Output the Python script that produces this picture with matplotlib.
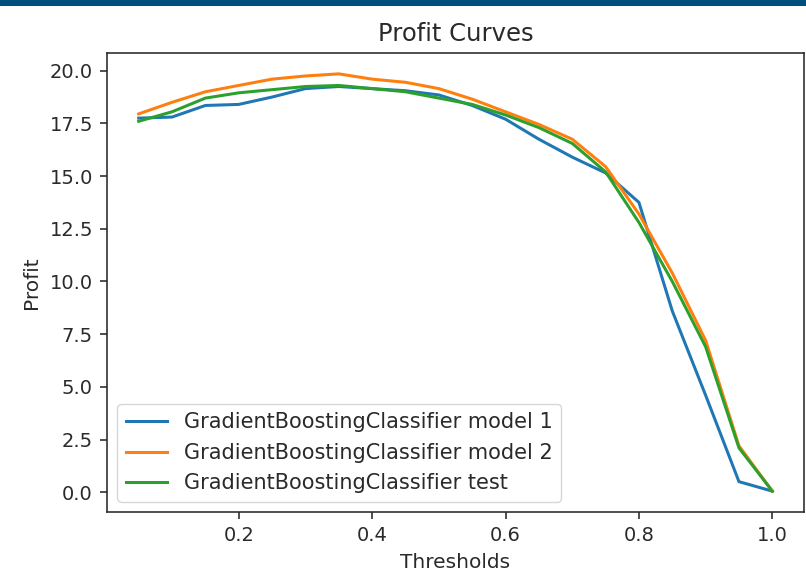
import matplotlib
matplotlib.use("Agg")
import matplotlib.pyplot as plt
from matplotlib.patches import Rectangle

thresholds = [0.05, 0.10, 0.15, 0.20, 0.25, 0.30, 0.35, 0.40, 0.45, 0.50,
              0.55, 0.60, 0.65, 0.70, 0.75, 0.80, 0.85, 0.90, 0.95, 1.00]
model1 = [17.75, 17.8, 18.35, 18.4, 18.75, 19.15, 19.25, 19.15, 19.05, 18.85,
          18.35, 17.7, 16.75, 15.9, 15.15, 13.75, 8.6, 4.6, 0.5, 0.05]
model2 = [17.95, 18.5, 19.0, 19.3, 19.6, 19.75, 19.85, 19.6, 19.45, 19.15,
          18.65, 18.05, 17.45, 16.75, 15.45, 13.2, 10.4, 7.2, 2.2, 0.05]
test = [17.6, 18.05, 18.7, 18.95, 19.1, 19.25, 19.3, 19.15, 19.0, 18.7,
        18.4, 17.9, 17.3, 16.55, 15.2, 12.8, 10.0, 6.9, 2.1, 0.05]
labels = ["GradientBoostingClassifier model 1",
          "GradientBoostingClassifier model 2",
          "GradientBoostingClassifier test"]
colors = ["#1f77b4", "#ff7f0e", "#2ca02c"]

s = 1.45
plt.rcParams.update({
    "font.family": ["DejaVu Sans"],
    "font.size": 14.5,
    "axes.linewidth": 0.8 * s,
    "xtick.major.width": 0.8 * s,
    "ytick.major.width": 0.8 * s,
    "xtick.major.size": 3.5 * s,
    "ytick.major.size": 3.5 * s,
    "xtick.major.pad": 3.5 * s,
    "ytick.major.pad": 3.5 * s,
    "axes.labelpad": 4.0 * s,
    "axes.titlepad": 6.0 * s,
    "lines.linewidth": 1.5 * s,
    "text.color": "#2a2a2a",
    "axes.labelcolor": "#2a2a2a",
    "xtick.color": "#2a2a2a",
    "ytick.color": "#2a2a2a",
    "axes.edgecolor": "#2a2a2a",
})

fig = plt.figure(figsize=(8.06, 5.76), dpi=100)
ax = fig.add_axes([107 / 806, 1 - 512 / 576, (804 - 107) / 806, (512 - 53) / 576])

for ys, lab, c in zip([model1, model2, test], labels, colors):
    ax.plot(thresholds, ys, color=c, label=lab)

ax.set_title("Profit Curves", fontsize=17.5)
ax.set_xlabel("Thresholds", fontsize=14.5)
ax.set_ylabel("Profit", fontsize=14.5)
ax.set_yticks([0, 2.5, 5, 7.5, 10, 12.5, 15, 17.5, 20])
ax.set_xticks([0.2, 0.4, 0.6, 0.8, 1.0])
ax.tick_params(labelsize=14)
ax.legend(loc="lower left", fontsize=15)

fig.patches.append(Rectangle((0, 1 - 6 / 576), 1, 6 / 576, transform=fig.transFigure,
                             facecolor="#00507f", edgecolor="none", zorder=10))

fig.savefig("out.png", dpi=100)
